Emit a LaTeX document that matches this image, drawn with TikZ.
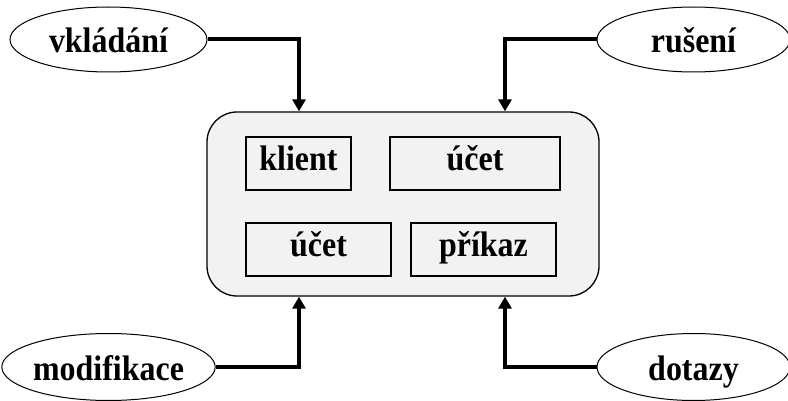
\documentclass[tikz,border=0pt]{standalone}
\usepackage{fontspec}
\setmainfont{Liberation Serif}
\newfontfamily\lblfont[FakeStretch=0.9]{Liberation Serif}
\usetikzlibrary{shapes.geometric,arrows.meta}
\definecolor{boxgray}{HTML}{F2F2F2}
\begin{document}
\begin{tikzpicture}[x=1pt,y=-1pt,
  lbl/.style={font=\lblfont\fontsize{35.5}{40}\selectfont\bfseries},
  oval/.style={ellipse,draw=black,line width=1pt,fill=white,inner sep=0pt,lbl,text height=30pt,text depth=4pt},
  inbox/.style={rectangle,draw=black,line width=1.3pt,fill=boxgray,inner sep=0pt,minimum height=53pt,lbl,text height=22pt,text depth=7pt},
  arr/.style={line width=4pt,-{Triangle[width=13pt,length=12pt]},line join=miter}]
\useasboundingbox (0,0) rectangle (788,401);
\node[rectangle,draw=black,line width=1.3pt,fill=boxgray,rounded corners=30pt,
      minimum width=392pt,minimum height=184pt] (box) at (403,204) {};
\node[inbox,minimum width=105pt] (klient) at (298.5,163.5) {klient};
\node[inbox,minimum width=170pt] (ucet1) at (475,163.5) {účet};
\node[inbox,minimum width=145pt] (ucet2) at (318.5,249.5) {účet};
\node[inbox,minimum width=145pt] (prikaz) at (483.5,249.5) {příkaz};
\node[oval,minimum width=197pt,minimum height=65pt] (vkl) at (108.5,39.5) {vkládání};
\node[oval,minimum width=193pt,minimum height=65pt] (rus) at (693.5,39.5) {rušení};
\node[oval,minimum width=197pt,minimum height=67pt] (mod) at (108.5,367) {modifikace};
\node[oval,minimum width=193pt,minimum height=67pt] (dot) at (693.5,367) {dotazy};
\draw[arr] (vkl.east) -| ([xshift=-104pt]box.north);
\draw[arr] (rus.west) -| ([xshift=102pt]box.north);
\draw[arr] (mod.east) -| ([xshift=-104pt]box.south);
\draw[arr] (dot.west) -| ([xshift=102pt]box.south);
\end{tikzpicture}
\end{document}
